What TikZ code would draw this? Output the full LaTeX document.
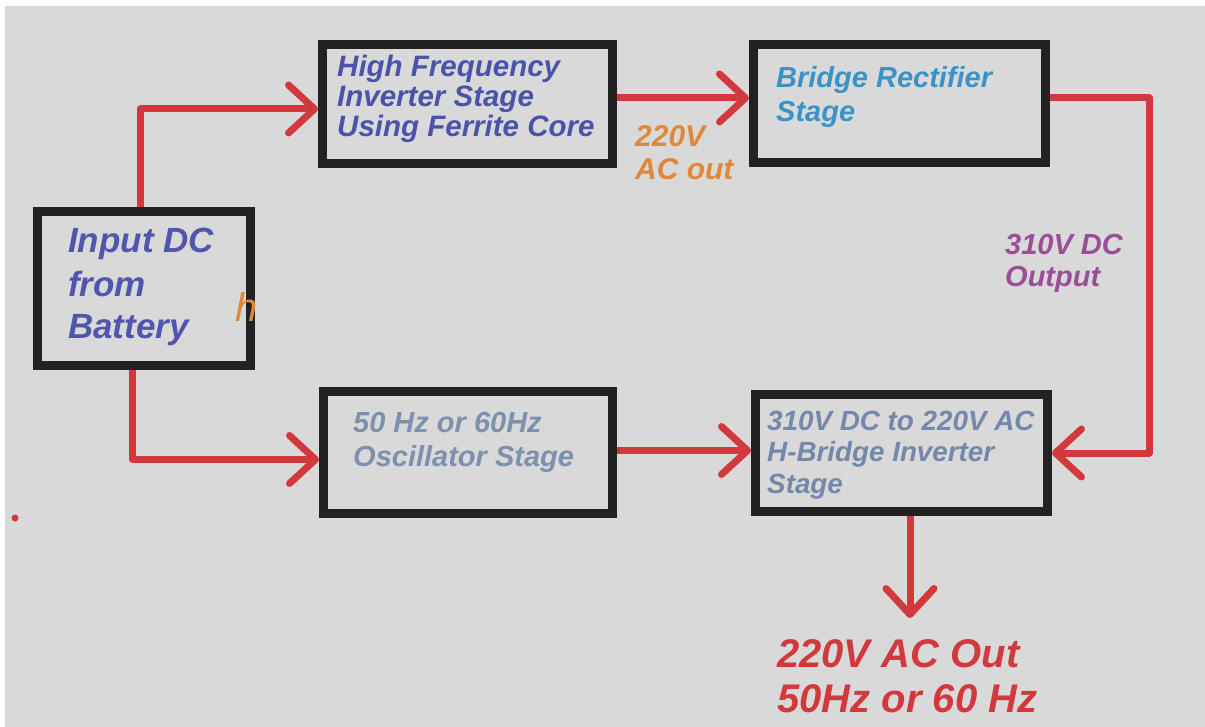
\documentclass[tikz,border=0pt]{standalone}
\usepackage{fontspec}
\setmainfont{Liberation Sans}
\usetikzlibrary{arrows.meta}
\definecolor{bg}{HTML}{D9D9D9}
\definecolor{border}{HTML}{222222}
\definecolor{cred}{HTML}{D2393C}
\definecolor{cin}{HTML}{5055AE}
\definecolor{chf}{HTML}{4A52AA}
\definecolor{cbr}{HTML}{3A93C6}
\definecolor{cosc}{HTML}{7D90AE}
\definecolor{chb}{HTML}{7388AA}
\definecolor{corange}{HTML}{E0883A}
\definecolor{cpurple}{HTML}{9A4E98}
\begin{document}
\begin{tikzpicture}[x=1pt,y=-1pt,
  box/.style={draw=border,line width=9pt,inner sep=0pt,fill=none},
  arr/.style={draw=cred,line width=7pt,line join=round,
    -{Straight Barb[length=26pt,width=48pt,line width=7pt,round]}},
  txt/.style={inner sep=0pt,anchor=base west,align=left},
  lbl/.style={txt,font=\fontsize{29}{33}\selectfont\bfseries\itshape}]
\useasboundingbox (0,0) rectangle (1205,727);
\fill[white] (0,0) rectangle (1205,727);
\fill[bg] (5,6) rectangle (1205,727);
% boxes
\node[box,minimum width=213pt,minimum height=154pt] (in) at (144,288.5) {};
\node[box,minimum width=290pt,minimum height=119pt] (hf) at (467.5,104) {};
\node[box,minimum width=292pt,minimum height=118pt] (br) at (899.5,103.5) {};
\node[box,minimum width=289pt,minimum height=122pt] (osc) at (468,452.5) {};
\node[box,minimum width=292pt,minimum height=117pt] (hb) at (901.5,453) {};
% texts (anchor = baseline of last line)
\node[txt,text=cin,font=\fontsize{35}{43}\selectfont\bfseries\itshape] (tin) at (68,339) {Input DC\\from\\Battery};
\node[txt,text=corange,font=\fontsize{40}{40}\selectfont\itshape] (th) at (235,322) {h};
\node[lbl,text=chf,font=\fontsize{29.5}{30}\selectfont\bfseries\itshape] (thf) at (337,137) {High Frequency\\Inverter Stage\\Using Ferrite Core};
\node[lbl,text=cbr,font=\fontsize{29}{34}\selectfont\bfseries\itshape] (tbr) at (776,122) {Bridge Rectifier\\Stage};
\node[lbl,text=cosc,font=\fontsize{29}{34}\selectfont\bfseries\itshape] (tosc) at (353,466) {50 Hz or 60Hz\\Oscillator Stage};
\node[lbl,text=chb,font=\fontsize{27.8}{31.5}\selectfont\bfseries\itshape] (thb) at (767,493) {310V DC to 220V AC\\H-Bridge Inverter\\Stage};
\node[lbl,text=corange,font=\fontsize{30}{33}\selectfont\bfseries\itshape] (tac) at (635,180) {220V\\AC out};
\node[lbl,text=cpurple,font=\fontsize{29}{32}\selectfont\bfseries\itshape] (tdc) at (1005,287) {310V DC\\Output};
\node[txt,text=cred,font=\fontsize{40}{45}\selectfont\bfseries\itshape] (tout) at (777,712) {220V AC Out\\50Hz or 60 Hz};
% connectors
\coordinate (c1) at (140,0);
\coordinate (c2) at (132,0);
\coordinate (c4) at (910,618);
\draw[arr] (in.north -| c1) |- ([yshift=-5pt]hf.west);
\draw[arr] ([yshift=6pt]hf.east) -- ([yshift=6pt]hf.east -| br.west);
\draw[arr] ([yshift=6pt]br.east) -- ++(99,0) |- (hb.east);
\draw[arr] (in.south -| c2) |- ([yshift=-7pt]osc.west);
\draw[arr] ([yshift=2pt]osc.east) -- ([yshift=2pt]osc.east -| hb.west);
\draw[arr] (hb.south -| c4) -- (c4);
\fill[cred] (15,518) circle (3.5);
\end{tikzpicture}
\end{document}
